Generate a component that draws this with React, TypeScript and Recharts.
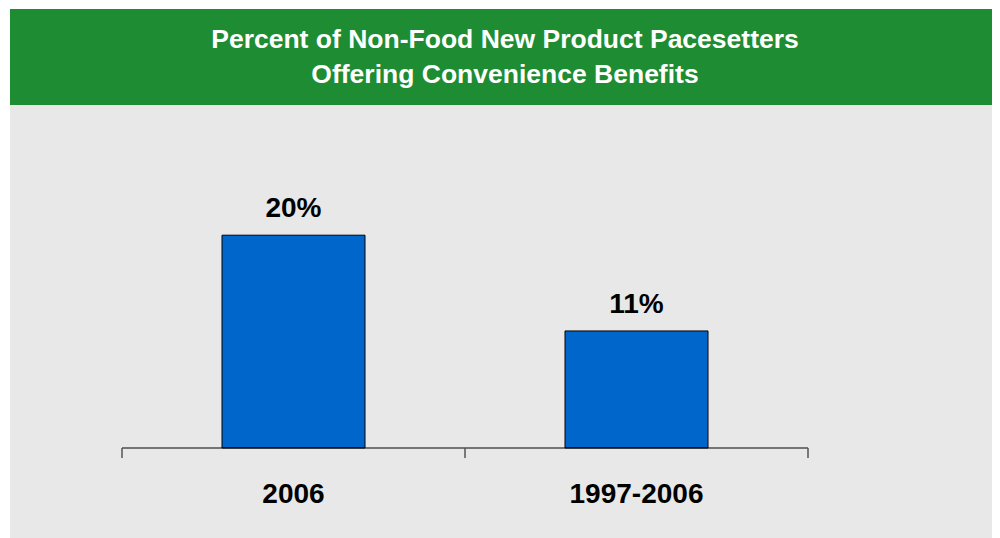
import { Bar, BarChart, LabelList, XAxis, YAxis } from "recharts"

const categories = ["2006", "1997-2006"]
const percents = [20, 11]

const data = categories.map((name, i) => ({ name, value: percents[i] }))

const FONT = "'Liberation Sans', Arial, sans-serif"
const HALF_BAND = 171.5

function CategoryTick(props: any) {
  const { x, y, payload, index } = props
  const last = index === categories.length - 1
  return (
    <g>
      <line x1={x - HALF_BAND} y1={y} x2={x - HALF_BAND} y2={y + 10} stroke="#555" strokeWidth={1.5} />
      {last && <line x1={x + HALF_BAND} y1={y} x2={x + HALF_BAND} y2={y + 10} stroke="#555" strokeWidth={1.5} />}
      <text x={x} y={y + 55} textAnchor="middle" fontSize={28} fontWeight="bold" fill="#000" fontFamily={FONT}>
        {payload.value}
      </text>
    </g>
  )
}

export default function App() {
  return (
    <div style={{ marginLeft: 2, marginTop: 1, width: 990, height: 529, fontFamily: FONT }}>
      <div
        style={{
          height: 96,
          background: "#1e8c32",
          color: "#fff",
          fontSize: 26.5,
          fontWeight: "bold",
          lineHeight: "35px",
          textAlign: "center",
          paddingTop: 13,
          boxSizing: "border-box",
        }}
      >
        <div>Percent of Non-Food New Product Pacesetters</div>
        <div>Offering Convenience Benefits</div>
      </div>
      <div style={{ background: "#e8e8e8", height: 433 }}>
        <BarChart width={990} height={433} data={data} margin={{ top: 77, right: 192, left: 112, bottom: 40 }}>
          <XAxis
            dataKey="name"
            height={50}
            tickSize={0}
            tickMargin={0}
            tickLine={false}
            axisLine={{ stroke: "#000", strokeWidth: 1 }}
            tick={<CategoryTick />}
            interval={0}
          />
          <YAxis hide domain={[0, 25]} />
          <Bar dataKey="value" barSize={143} fill="#0066cc" stroke="#000" strokeWidth={1} isAnimationActive={false}>
            <LabelList
              dataKey="value"
              position="top"
              offset={18}
              formatter={(v: any) => `${v}%`}
              style={{ fontSize: 28, fontWeight: "bold", fill: "#000", fontFamily: FONT }}
            />
          </Bar>
        </BarChart>
      </div>
    </div>
  )
}
